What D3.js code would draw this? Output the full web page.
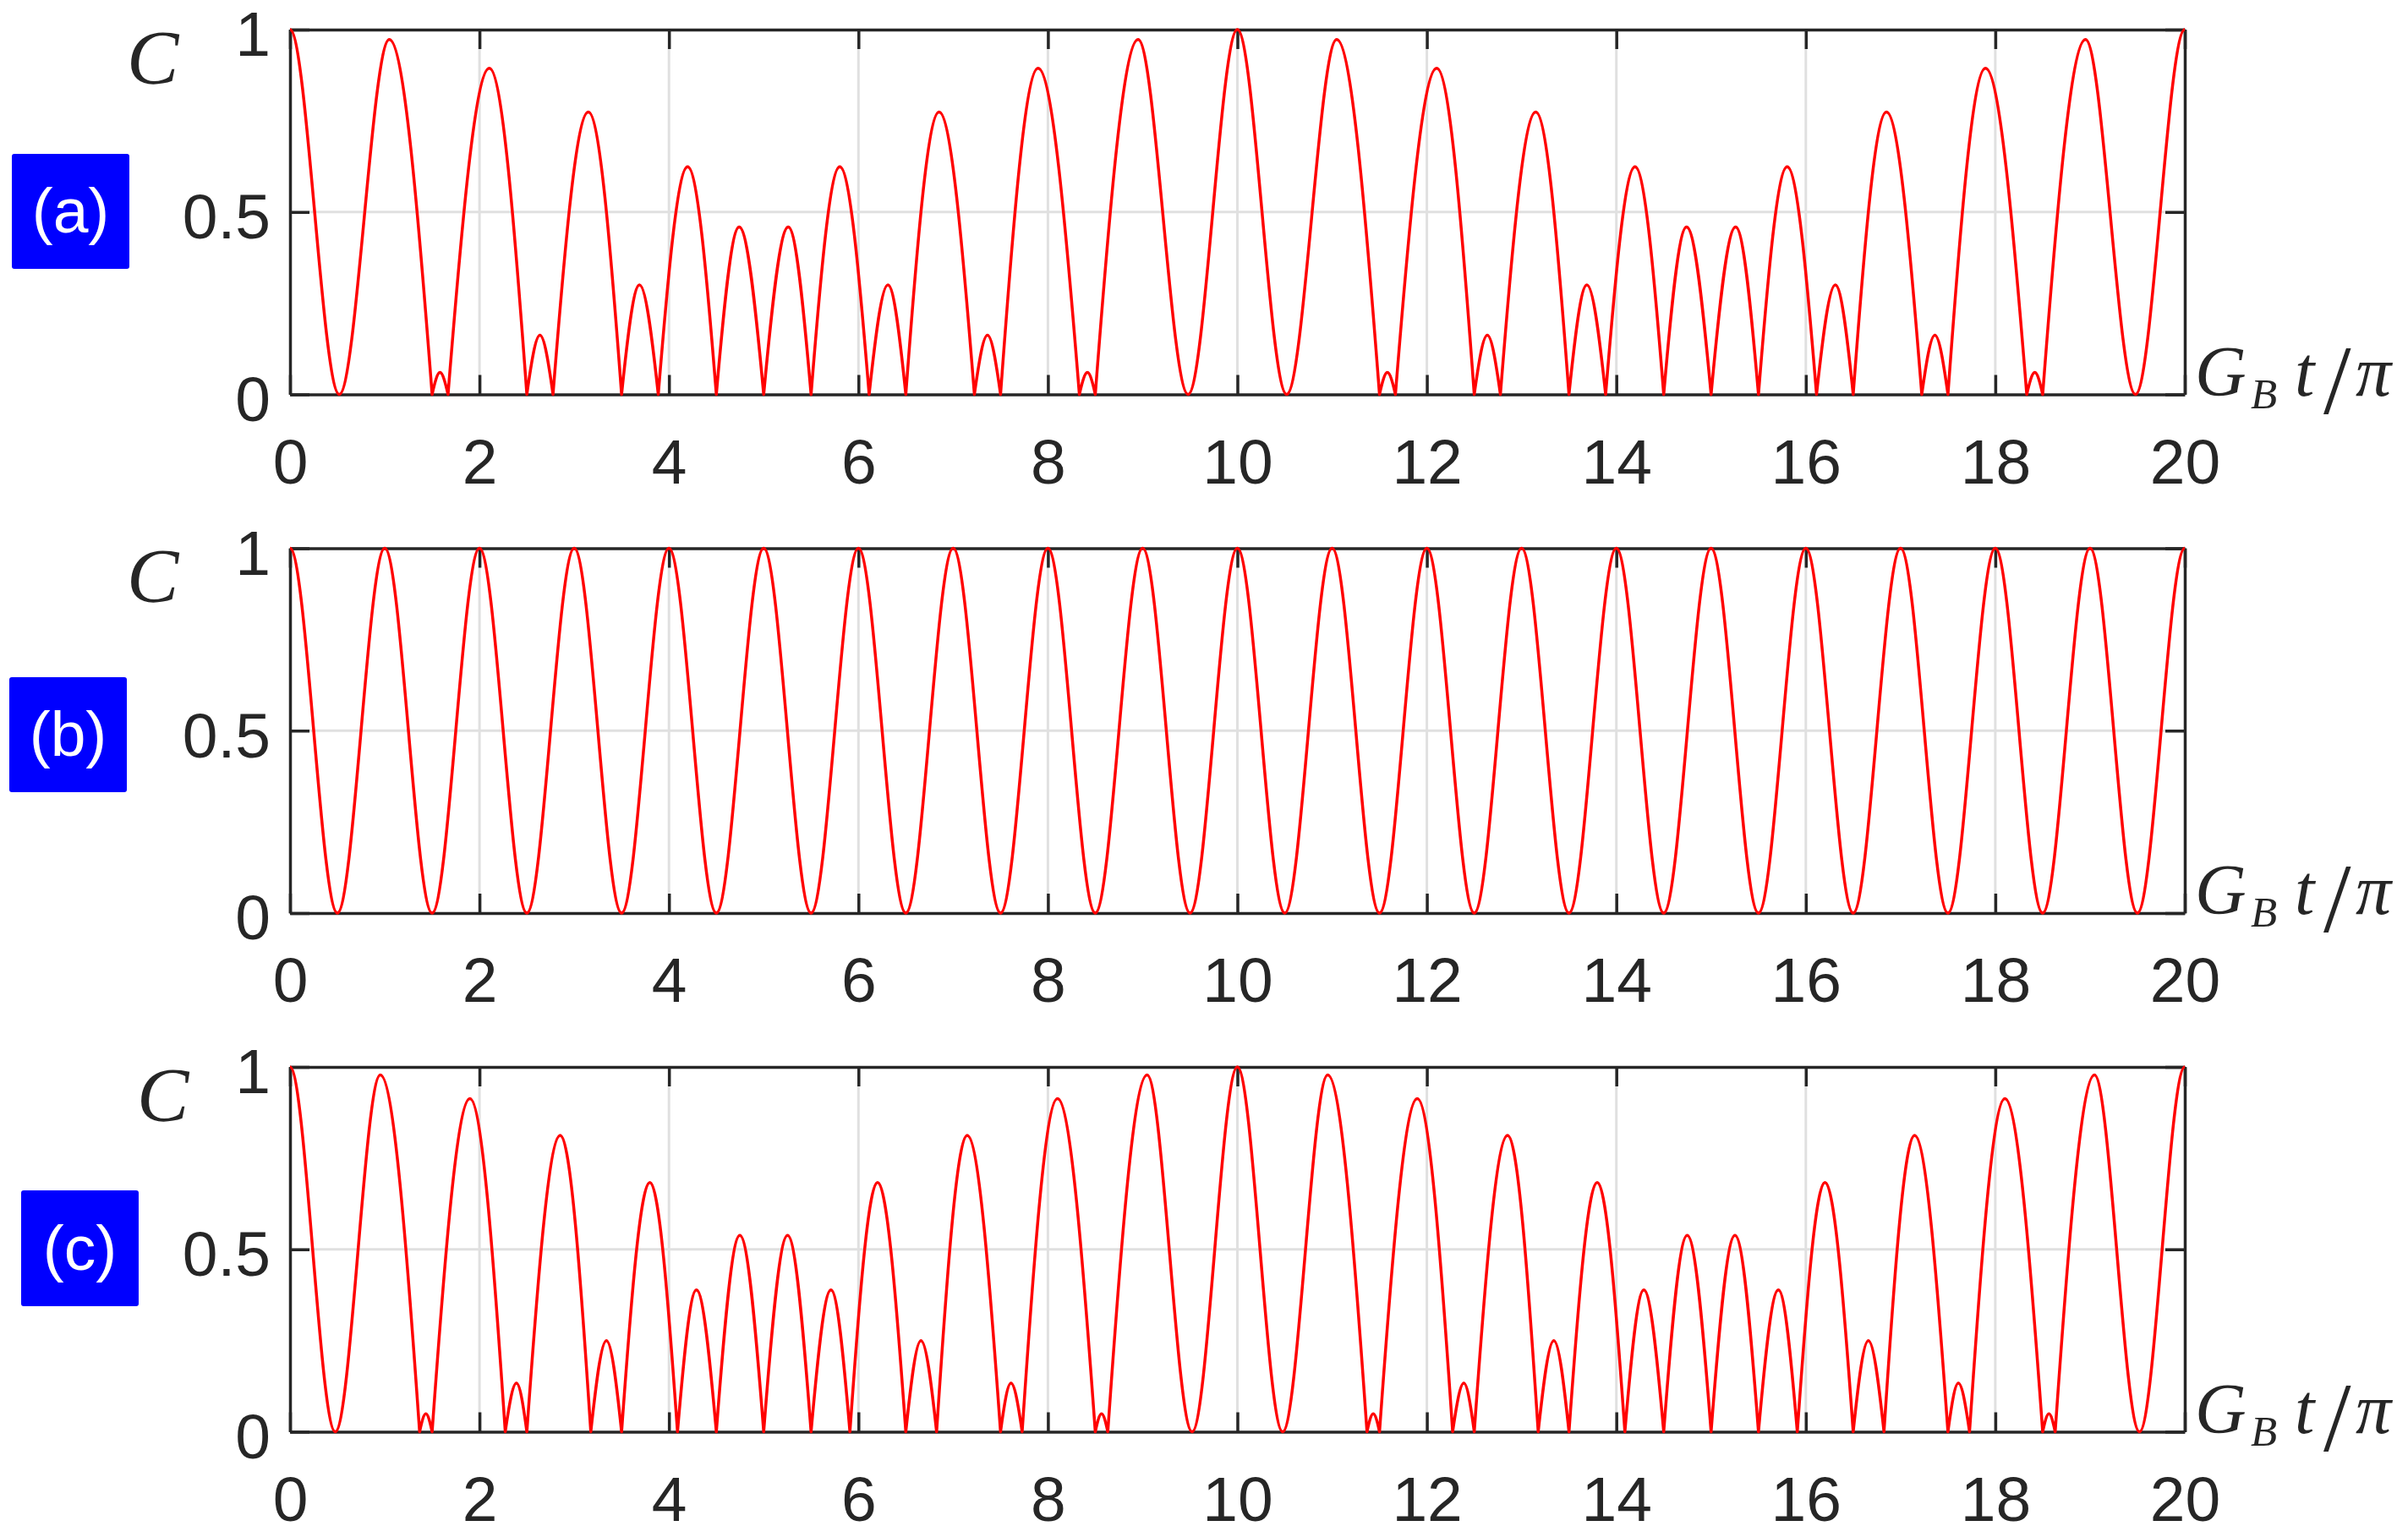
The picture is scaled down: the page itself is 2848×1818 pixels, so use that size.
<!DOCTYPE html>
<html>
<head>
<meta charset="utf-8">
<script src="https://cdn.jsdelivr.net/npm/d3@7"></script>
<style>
  html, body { margin: 0; padding: 0; background: #ffffff; }
  svg { display: block; }
</style>
</head>
<body>
<div id="chart"></div>
<script>
// ---------------- data ----------------
const xTicks = [0, 2, 4, 6, 8, 10, 12, 14, 16, 18, 20];
const xTickLabels = ["0", "2", "4", "6", "8", "10", "12", "14", "16", "18", "20"];
const yTicks = [0, 0.5, 1];
const yTickLabels = ["0", "0.5", "1"];
const panelLabels = ["(a)", "(b)", "(c)"];

// panel (a): extrema of C (peaks and zeros) in order of G_B t / pi
const tA = [0, 0.52, 1.048, 1.5, 1.583, 1.668, 2.104, 2.5, 2.638, 2.776, 3.149, 3.5, 3.689, 3.887, 4.197, 4.5, 4.741, 5.0,
            5.259, 5.5, 5.803, 6.113, 6.311, 6.5, 6.851, 7.224, 7.362, 7.5, 7.896, 8.332, 8.417, 8.5, 8.952, 9.48, 10,
            10.52, 11.048, 11.5, 11.583, 11.668, 12.104, 12.5, 12.638, 12.776, 13.149, 13.5, 13.689, 13.887, 14.197, 14.5, 14.741, 15.0,
            15.259, 15.5, 15.803, 16.113, 16.311, 16.5, 16.851, 17.224, 17.362, 17.5, 17.896, 18.332, 18.417, 18.5, 18.952, 19.48, 20];
const cA = [1, 0, 0.973, 0, 0.060, 0, 0.894, 0, 0.162, 0, 0.774, 0, 0.300, 0, 0.624, 0, 0.459, 0,
            0.459, 0, 0.624, 0, 0.300, 0, 0.774, 0, 0.162, 0, 0.894, 0, 0.060, 0, 0.973, 0, 1,
            0, 0.973, 0, 0.060, 0, 0.894, 0, 0.162, 0, 0.774, 0, 0.300, 0, 0.624, 0, 0.459, 0,
            0.459, 0, 0.624, 0, 0.300, 0, 0.774, 0, 0.162, 0, 0.894, 0, 0.060, 0, 0.973, 0, 1];
const roundA = [0.52, 9.48, 10.52, 19.48];   // zeros with a rounded (not cusped) minimum

// panel (b)
const tB = [0, 0.5, 1, 1.5, 2, 2.5, 3, 3.5, 4, 4.5, 5, 5.5, 6, 6.5, 7, 7.5, 8, 8.5, 9, 9.5, 10,
            10.5, 11, 11.5, 12, 12.5, 13, 13.5, 14, 14.5, 15, 15.5, 16, 16.5, 17, 17.5, 18, 18.5, 19, 19.5, 20];
const cB = [1, 0, 1, 0, 1, 0, 1, 0, 1, 0, 1, 0, 1, 0, 1, 0, 1, 0, 1, 0, 1,
            0, 1, 0, 1, 0, 1, 0, 1, 0, 1, 0, 1, 0, 1, 0, 1, 0, 1, 0, 1];
const roundB = [0.5, 1.5, 2.5, 3.5, 4.5, 5.5, 6.5, 7.5, 8.5, 9.5, 10.5, 11.5, 12.5, 13.5, 14.5, 15.5, 16.5, 17.5, 18.5, 19.5];

// panel (c)
const tC = [0, 0.478, 0.953, 1.368, 1.434, 1.5, 1.899, 2.272, 2.39, 2.5, 2.852, 3.175, 3.34, 3.5, 3.798, 4.09, 4.29, 4.5, 4.748, 5.0,
            5.252, 5.5, 5.71, 5.91, 6.202, 6.5, 6.66, 6.825, 7.148, 7.5, 7.61, 7.728, 8.101, 8.5, 8.566, 8.632, 9.047, 9.522, 10,
            10.478, 10.953, 11.368, 11.434, 11.5, 11.899, 12.272, 12.39, 12.5, 12.852, 13.175, 13.34, 13.5, 13.798, 14.09, 14.29, 14.5, 14.748, 15.0,
            15.252, 15.5, 15.71, 15.91, 16.202, 16.5, 16.66, 16.825, 17.148, 17.5, 17.61, 17.728, 18.101, 18.5, 18.566, 18.632, 19.047, 19.522, 20];
const cC = [1, 0, 0.978, 0, 0.049, 0, 0.913, 0, 0.133, 0, 0.812, 0, 0.250, 0, 0.683, 0, 0.389, 0, 0.538, 0,
            0.538, 0, 0.389, 0, 0.683, 0, 0.250, 0, 0.812, 0, 0.133, 0, 0.913, 0, 0.049, 0, 0.978, 0, 1,
            0, 0.978, 0, 0.049, 0, 0.913, 0, 0.133, 0, 0.812, 0, 0.250, 0, 0.683, 0, 0.389, 0, 0.538, 0,
            0.538, 0, 0.389, 0, 0.683, 0, 0.250, 0, 0.812, 0, 0.133, 0, 0.913, 0, 0.049, 0, 0.978, 0, 1];
const roundC = [0.478, 9.522, 10.478, 19.522];

// ---------------- layout ----------------
const W = 2848, H = 1818;
const plotLeft = 343, plotRight = 2584, plotH = 431.5;
const panels = [
  { t: tA, c: cA, round: roundA, top: 35,    label: panelLabels[0], box: [14, 182, 139, 136], cx: 150, cy: 99 },
  { t: tB, c: cB, round: roundB, top: 648.5, label: panelLabels[1], box: [11, 801, 139, 136], cx: 150, cy: 712 },
  { t: tC, c: cC, round: roundC, top: 1262,  label: panelLabels[2], box: [25, 1408, 139, 137], cx: 162, cy: 1326 }
];

const AX = "#262626", GRID = "#e0e0e0";
const TICK_FONT = "'Liberation Sans', Arial, Helvetica, sans-serif";
const MATH_FONT = "'Liberation Serif', 'Times New Roman', serif";

const svg = d3.select("#chart").append("svg")
  .attr("width", W).attr("height", H)
  .attr("viewBox", `0 0 ${W} ${H}`);
svg.append("rect").attr("width", W).attr("height", H).attr("fill", "#ffffff");

const x = d3.scaleLinear().domain([0, 20]).range([plotLeft, plotRight]);

// piecewise cubic Hermite curve through extrema: slope 0 at peaks and rounded minima,
// sine-like steep slope on each side of a cusped zero.
function extremaCurve(kinds) {
  return function (context) {
    return {
      areaStart() {}, areaEnd() {},
      lineStart() { this._x = []; this._y = []; },
      point(px, py) { this._x.push(+px); this._y.push(+py); },
      lineEnd() {
        const X = this._x, Y = this._y, n = X.length;
        if (!n) return;
        const mL = new Array(n).fill(0), mR = new Array(n).fill(0);
        for (let i = 0; i < n; i++) {
          if (kinds[i] === "k") {
            if (i > 0) mL[i] = (Math.PI / 2) * (Y[i] - Y[i - 1]) / (X[i] - X[i - 1]);
            if (i < n - 1) mR[i] = (Math.PI / 2) * (Y[i + 1] - Y[i]) / (X[i + 1] - X[i]);
          }
        }
        context.moveTo(X[0], Y[0]);
        for (let i = 0; i < n - 1; i++) {
          const h = X[i + 1] - X[i];
          context.bezierCurveTo(X[i] + h / 3, Y[i] + mR[i] * h / 3,
                                X[i + 1] - h / 3, Y[i + 1] - mL[i + 1] * h / 3,
                                X[i + 1], Y[i + 1]);
        }
      }
    };
  };
}

panels.forEach((p) => {
  const top = p.top, bottom = p.top + plotH;
  const y = d3.scaleLinear().domain([0, 1]).range([bottom, top]);
  const g = svg.append("g");

  // grid
  g.append("g").selectAll("line.gx").data(xTicks.filter(v => v > 0 && v < 20)).join("line")
    .attr("x1", d => x(d)).attr("x2", d => x(d)).attr("y1", top).attr("y2", bottom)
    .attr("stroke", GRID).attr("stroke-width", 3);
  g.append("g").selectAll("line.gy").data(yTicks.filter(v => v > 0 && v < 1)).join("line")
    .attr("x1", plotLeft).attr("x2", plotRight).attr("y1", d => y(d)).attr("y2", d => y(d))
    .attr("stroke", GRID).attr("stroke-width", 3);

  const styleAxis = (sel) => {
    sel.selectAll("path.domain").attr("stroke", AX).attr("stroke-width", 3.5);
    sel.selectAll(".tick line").attr("stroke", AX).attr("stroke-width", 3.5);
    sel.selectAll(".tick text").attr("fill", AX).attr("font-family", TICK_FONT).attr("font-size", 75);
  };

  // bottom axis with labels
  const axB = g.append("g").attr("transform", `translate(0,${bottom})`)
    .call(d3.axisBottom(x).tickValues(xTicks).tickFormat((d, i) => xTickLabels[i])
      .tickSizeInner(-23).tickSizeOuter(0).tickPadding(52));
  styleAxis(axB);
  axB.selectAll(".tick text").attr("dy", "0.71em");

  // top axis (ticks only)
  const axT = g.append("g").attr("transform", `translate(0,${top})`)
    .call(d3.axisTop(x).tickValues(xTicks).tickFormat("").tickSizeInner(-23).tickSizeOuter(0));
  styleAxis(axT);

  // left axis with labels
  const axL = g.append("g").attr("transform", `translate(${plotLeft},0)`)
    .call(d3.axisLeft(y).tickValues(yTicks).tickFormat((d, i) => yTickLabels[i])
      .tickSizeInner(-23).tickSizeOuter(0).tickPadding(23));
  styleAxis(axL);
  axL.selectAll(".tick text").attr("dy", "0.41em");

  // right axis (ticks only)
  const axR = g.append("g").attr("transform", `translate(${plotRight},0)`)
    .call(d3.axisRight(y).tickValues(yTicks).tickFormat("").tickSizeInner(-23).tickSizeOuter(0));
  styleAxis(axR);

  // curve
  const pts = p.t.map((t, i) => ({ t, c: p.c[i] }));
  const kinds = pts.map(d => d.c > 0 ? "p" : (p.round.includes(d.t) ? "r" : "k"));
  const line = d3.line().x(d => x(d.t)).y(d => y(d.c)).curve(extremaCurve(kinds));
  g.append("path").datum(pts).attr("d", line)
    .attr("fill", "none").attr("stroke", "#ff0000").attr("stroke-width", 3.5)
    .attr("stroke-linejoin", "round");

  // y label C
  g.append("text").attr("x", p.cx).attr("y", p.cy)
    .attr("font-family", MATH_FONT).attr("font-style", "italic").attr("font-size", 92)
    .attr("fill", AX).text("C");

  // x label  G_B t / pi
  const xl = g.append("text").attr("y", bottom + 1)
    .attr("font-family", MATH_FONT).attr("font-size", 84).attr("fill", AX);
  xl.append("tspan").attr("x", 2596).attr("font-style", "italic").text("G");
  xl.append("tspan").attr("x", 2662).attr("dy", 15).attr("font-style", "italic").attr("font-size", 51).text("B");
  xl.append("tspan").attr("x", 2714).attr("dy", -15).attr("font-style", "italic").text("t");
  xl.append("tspan").attr("x", 2748).attr("dy", 21).attr("font-size", 117).text("/");
  xl.append("tspan").attr("x", 2786).attr("dy", -21).attr("font-style", "italic").text("π");

  // panel tag
  const [bx, by, bw, bh] = p.box;
  g.append("rect").attr("x", bx).attr("y", by).attr("width", bw).attr("height", bh)
    .attr("rx", 3).attr("fill", "#0000ff");
  g.append("text").attr("x", bx + bw / 2).attr("y", by + bh / 2 + 25)
    .attr("text-anchor", "middle").attr("font-family", TICK_FONT).attr("font-size", 75)
    .attr("fill", "#ffffff").text(p.label);
});
</script>
</body>
</html>
